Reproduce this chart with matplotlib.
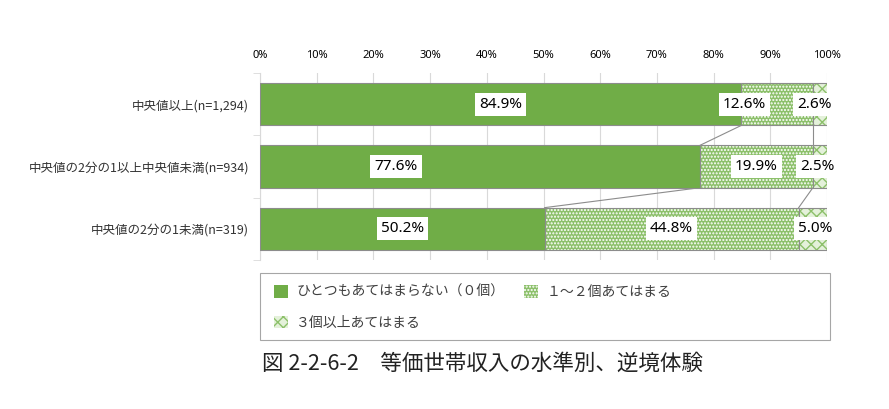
import numpy as np
import matplotlib.pyplot as plt
from matplotlib.patches import Patch, Rectangle

plt.rcParams['font.family'] = ['Noto Sans CJK JP', 'DejaVu Sans']

# data
categories = ['中央値以上(n=1,294)', '中央値の2分の1以上中央値未満(n=934)', '中央値の2分の1未満(n=319)']
series_names = ['ひとつもあてはまらない（０個）', '１～２個あてはまる', '３個以上あてはまる']
none_vals = [84.9, 77.6, 50.2]
some_vals = [12.6, 19.9, 44.8]
many_vals = [2.6, 2.5, 5.0]
# label nudges (percent points) where the original moved them by hand
label_shift = [[0, -5.8, -1.0], [-14.8, 0, -0.5], [0, 0, 0.4]]

green = '#70ad47'
dotted = '#8cc06a'
light = '#e4f1da'
grey = '#8c8c8c'

fig = plt.figure(figsize=(8.89, 4.09), dpi=100)
ax = fig.add_axes([0.2925, 0.3643, 0.6378, 0.4572])

vals = np.array([none_vals, some_vals, many_vals]).T
lefts = np.hstack([np.zeros((3, 1)), np.cumsum(vals, axis=1)[:, :-1]])
y = np.arange(len(categories))
h = 0.68

ax.barh(y, vals[:, 0], left=lefts[:, 0], height=h, color=green, edgecolor=grey, linewidth=0.8, zorder=3)
ax.barh(y, vals[:, 1], left=lefts[:, 1], height=h, color=dotted, edgecolor='white',
        hatch='.....', linewidth=0, zorder=3)
ax.barh(y, vals[:, 1], left=lefts[:, 1], height=h, fill=False, edgecolor=grey, linewidth=0.8, zorder=3)
ax.barh(y, vals[:, 2], left=lefts[:, 2], height=h, color=light, edgecolor=dotted,
        hatch='xxx', linewidth=0, zorder=3)
ax.barh(y, vals[:, 2], left=lefts[:, 2], height=h, fill=False, edgecolor=grey, linewidth=0.8, zorder=3)

# series lines between bars
cum = np.cumsum(vals, axis=1)
for i in range(len(categories) - 1):
    for k in range(2):
        ax.plot([cum[i, k], cum[i + 1, k]], [y[i] + h / 2, y[i + 1] - h / 2],
                color=grey, linewidth=0.8, zorder=2)

# data labels
for i in range(len(categories)):
    for k in range(3):
        xc = lefts[i, k] + vals[i, k] / 2 + label_shift[i][k]
        ax.text(xc, y[i], f'{vals[i, k]:.1f}%', ha='center', va='center', fontsize=11,
                family=['Noto Sans', 'DejaVu Sans'], zorder=5,
                bbox=dict(facecolor='white', edgecolor='none', pad=3))

ax.set_xlim(0, 100)
ax.set_ylim(len(categories) - 0.5, -0.5)
ax.set_xticks(np.arange(0, 101, 10))
ax.set_xticklabels([f'{v}%' for v in range(0, 101, 10)], fontsize=8,
                   family=['Noto Sans', 'DejaVu Sans'])
ax.xaxis.tick_top()
ax.tick_params(axis='x', length=0, pad=9)
ax.set_yticks(y)
ax.set_yticklabels(categories, fontsize=9, color='#333333')
ax.tick_params(axis='y', length=0, pad=8)
ax.set_yticks([-0.5, 0.5, 1.5, 2.5], minor=True)
ax.tick_params(axis='y', which='minor', length=5, color='#d9d9d9')
ax.grid(axis='x', color='#d9d9d9', linewidth=0.8, zorder=0)
for s in ['top', 'right', 'bottom']:
    ax.spines[s].set_visible(False)
ax.spines['left'].set_color('#d9d9d9')

# legend, with its own frame box
fig.patches.append(Rectangle((260 / 889, 1 - 340 / 409), 570 / 889, 67 / 409,
                             transform=fig.transFigure, fill=False,
                             edgecolor='#a6a6a6', linewidth=0.8))
handles = [
    Patch(facecolor=green, edgecolor='none'),
    Patch(facecolor=dotted, edgecolor='white', hatch='.....', linewidth=0),
    Patch(facecolor=light, edgecolor=dotted, hatch='xxx', linewidth=0),
]
order = [0, 2, 1]
leg = fig.legend([handles[j] for j in order], [series_names[j] for j in order],
                 ncol=2, loc='upper left', bbox_to_anchor=(263 / 889, 1 - 274 / 409),
                 fontsize=10, frameon=False, handlelength=1.0, handleheight=1.0,
                 handletextpad=0.6, labelspacing=1.2, columnspacing=1.4, borderpad=0.3)
for t in leg.get_texts():
    t.set_color('#404040')

fig.text(262 / 889, 1 - 364 / 409, '図 2-2-6-2\u3000等価世帯収入の水準別、逆境体験',
         fontsize=15.5, va='center', ha='left', color='#222222')

fig.savefig('out.png', dpi=100)
